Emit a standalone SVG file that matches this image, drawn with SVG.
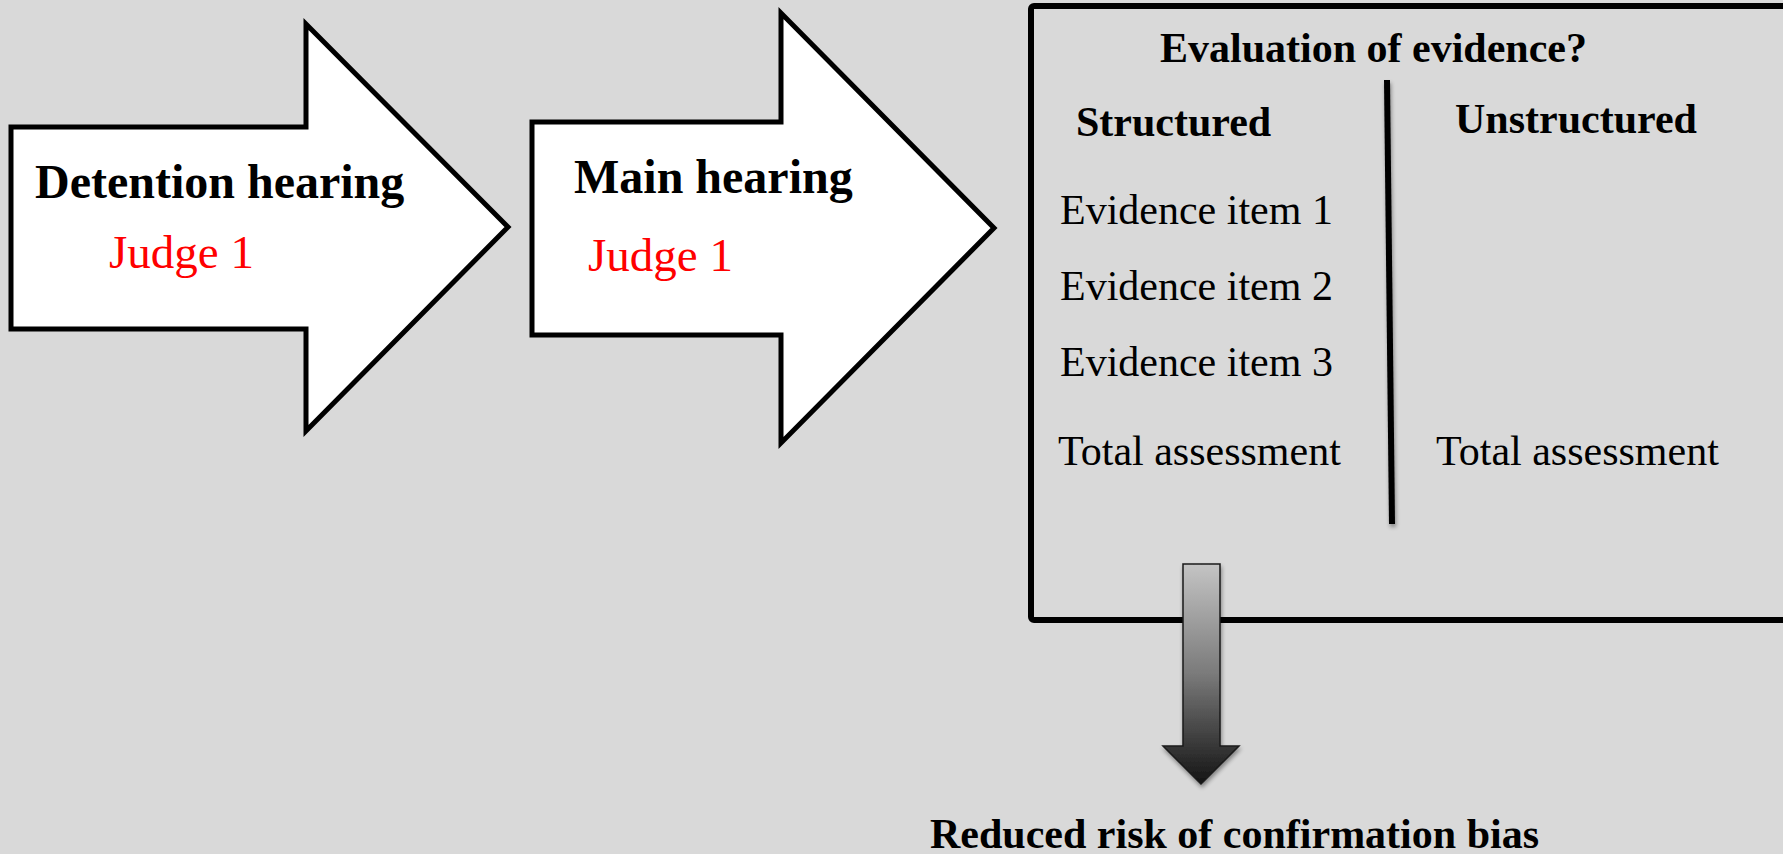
<svg xmlns="http://www.w3.org/2000/svg" width="1783" height="854" viewBox="0 0 1783 854">
  <defs>
    <linearGradient id="downGrad" x1="0" y1="0" x2="0" y2="1">
      <stop offset="0" stop-color="#c4c4c4"/>
      <stop offset="0.5" stop-color="#7a7a7a"/>
      <stop offset="1" stop-color="#141414"/>
    </linearGradient>
    <filter id="shadow" filterUnits="userSpaceOnUse" x="0" y="0" width="1783" height="854">
      <feGaussianBlur in="SourceAlpha" stdDeviation="2"/>
      <feOffset dx="1" dy="3" result="b"/>
      <feComponentTransfer><feFuncA type="linear" slope="0.4"/></feComponentTransfer>
      <feMerge><feMergeNode/><feMergeNode in="SourceGraphic"/></feMerge>
    </filter>
  </defs>
  <style>
    .big-arrow { fill: #ffffff; stroke: #000000; stroke-width: 5; stroke-linejoin: miter; }
    .title { font-family: "Liberation Serif", "Times New Roman", serif; font-weight: bold; font-size: 48px; fill: #000; }
    .judge { font-family: "Liberation Serif", "Times New Roman", serif; font-size: 47px; fill: #ff0000; }
    .head { font-family: "Liberation Serif", "Times New Roman", serif; font-weight: bold; font-size: 42px; fill: #000; }
    .item { font-family: "Liberation Serif", "Times New Roman", serif; font-size: 42px; fill: #000; }
  </style>
  <rect x="0" y="0" width="1783" height="854" fill="#d9d9d9"/>

  <g id="detention-hearing">
    <polygon class="big-arrow" points="11,127 306,127 306,24 508,227 306,431 306,329 11,329"/>
    <text class="title" x="35" y="198">Detention hearing</text>
    <text class="judge" x="109" y="268">Judge 1</text>
  </g>

  <g id="main-hearing">
    <polygon class="big-arrow" points="532,122 781,122 781,13 994,228 781,443 781,335 532,335"/>
    <text class="title" x="574" y="193">Main hearing</text>
    <text class="judge" x="588" y="271">Judge 1</text>
  </g>

  <g id="evaluation-box">
    <rect x="1031" y="6" width="800" height="614" rx="3" fill="none" stroke="#000" stroke-width="6"/>
    <text class="head" x="1160" y="62">Evaluation of evidence?</text>
    <text class="head" x="1076" y="136">Structured</text>
    <text class="head" x="1455" y="133">Unstructured</text>
    <line x1="1387" y1="80" x2="1392" y2="524" stroke="#000" stroke-width="6" filter="url(#shadow)"/>
    <text class="item" x="1060" y="224">Evidence item 1</text>
    <text class="item" x="1060" y="300">Evidence item 2</text>
    <text class="item" x="1060" y="376">Evidence item 3</text>
    <text class="item" x="1058" y="465">Total assessment</text>
    <text class="item" x="1436" y="465">Total assessment</text>
  </g>

  <g id="connectors">
    <polygon points="1183,564 1220,564 1220,746 1239,746 1201,784 1163,746 1183,746" fill="url(#downGrad)" stroke="#1a1a1a" stroke-width="1.5" filter="url(#shadow)"/>
  </g>

  <g id="outcome">
    <text class="head" x="930" y="848" font-size="42.6">Reduced risk of confirmation bias</text>
  </g>
</svg>
